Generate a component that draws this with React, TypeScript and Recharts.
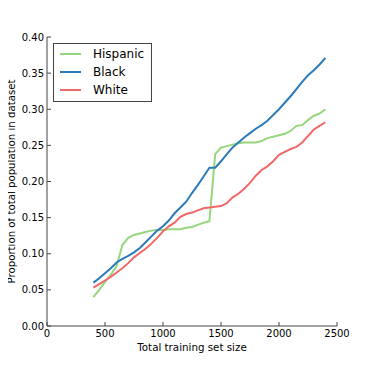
import React from "react";
import { LineChart, Line, XAxis, YAxis } from "recharts";

const sizes = [
  400, 450, 500, 550, 600, 650, 700, 750, 800, 850, 900, 950, 1000, 1050, 1100, 1150, 1200, 1250, 1300, 1350,
  1400, 1450, 1500, 1550, 1600, 1650, 1700, 1750, 1800, 1850, 1900, 1950, 2000, 2050, 2100, 2150, 2200, 2250,
  2300, 2350, 2400,
];

const hispanic = [
  0.04, 0.05, 0.061, 0.071, 0.083, 0.112, 0.122, 0.126, 0.128, 0.13, 0.132, 0.133, 0.133, 0.134, 0.134, 0.134,
  0.136, 0.137, 0.14, 0.143, 0.145, 0.238, 0.247, 0.249, 0.251, 0.253, 0.254, 0.254, 0.254, 0.256, 0.26, 0.262,
  0.264, 0.266, 0.27, 0.277, 0.278, 0.285, 0.291, 0.294, 0.3,
];

const black = [
  0.06, 0.066, 0.073, 0.08, 0.088, 0.093, 0.097, 0.102, 0.108, 0.116, 0.124, 0.132, 0.138, 0.146, 0.156, 0.164,
  0.172, 0.184, 0.195, 0.207, 0.219, 0.219, 0.228, 0.238, 0.247, 0.254, 0.261, 0.267, 0.273, 0.278, 0.284, 0.292,
  0.3, 0.309, 0.318, 0.328, 0.338, 0.347, 0.354, 0.362, 0.371,
];

const white = [
  0.053, 0.058, 0.063, 0.068, 0.074, 0.08, 0.087, 0.095, 0.101, 0.107, 0.114, 0.122, 0.131, 0.138, 0.143, 0.151,
  0.155, 0.157, 0.16, 0.163, 0.164, 0.165, 0.166, 0.17, 0.178, 0.183, 0.19, 0.198, 0.208, 0.216, 0.221, 0.228,
  0.237, 0.241, 0.245, 0.248, 0.254, 0.263, 0.272, 0.277, 0.282,
];

const xTicks = [0, 500, 1000, 1500, 2000, 2500];
const yTicks = [0, 0.05, 0.1, 0.15, 0.2, 0.25, 0.3, 0.35, 0.4];

const series = [
  { key: "hispanic", name: "Hispanic", color: "#96d67c" },
  { key: "black", name: "Black", color: "#2b7bba" },
  { key: "white", name: "White", color: "#f26868" },
];

const data = sizes.map((size, i) => ({
  size,
  hispanic: hispanic[i],
  black: black[i],
  white: white[i],
}));

const FONT = "'DejaVu Sans', sans-serif";
const AXIS = "#444";

function LegendBox() {
  return (
    <div
      style={{
        position: "absolute",
        left: 53,
        top: 43,
        boxSizing: "border-box",
        width: 99,
        height: 59,
        padding: "1px 0",
        border: `1px solid ${AXIS}`,
        background: "#fff",
        fontFamily: FONT,
        fontSize: 12,
        color: "#000",
      }}
    >
      {series.map((s) => (
        <div key={s.key} style={{ display: "flex", alignItems: "center", height: 18 }}>
          <svg width={39} height={18} style={{ display: "block" }}>
            <line x1={6} x2={27} y1={9} y2={9} stroke={s.color} strokeWidth={2} />
          </svg>
          <span>{s.name}</span>
        </div>
      ))}
    </div>
  );
}

function YLabel(props: any) {
  const vb = props.viewBox;
  const x = vb.x + 15;
  const y = vb.y + vb.height / 2;
  return (
    <text x={x} y={y} transform={`rotate(-90, ${x}, ${y})`} textAnchor="middle" fontFamily={FONT} fontSize={10.2} fill="#000">
      Proportion of total population in dataset
    </text>
  );
}

function XLabel(props: any) {
  const vb = props.viewBox;
  return (
    <text x={vb.x + vb.width / 2} y={vb.y + 24.5} textAnchor="middle" fontFamily={FONT} fontSize={10.3} fill="#000">
      Total training set size
    </text>
  );
}

export default function App() {
  const tickStyle = { fontFamily: FONT, fontSize: 10, fill: "#000" };
  return (
    <div style={{ position: "relative", width: 374, height: 374, margin: "-8px 0 0 -8px", background: "#fff" }}>
      <LineChart width={374} height={374} data={data} margin={{ top: 37, right: 37, bottom: 18, left: 0 }}>
        <XAxis
          dataKey="size"
          type="number"
          domain={[0, 2500]}
          ticks={xTicks}
          allowDataOverflow
          height={30}
          tickSize={-4}
          tickMargin={8}
          tick={tickStyle}
          axisLine={{ stroke: AXIS }}
          tickLine={{ stroke: AXIS }}
          label={<XLabel />}
        />
        <XAxis
          xAxisId="top"
          orientation="top"
          type="number"
          domain={[0, 2500]}
          ticks={xTicks}
          allowDataOverflow
          height={0}
          tickSize={-4}
          tick={false}
          axisLine={{ stroke: AXIS }}
          tickLine={{ stroke: AXIS }}
        />
        <YAxis
          type="number"
          domain={[0, 0.4]}
          ticks={yTicks}
          allowDataOverflow
          width={47}
          tickSize={-4}
          tickMargin={7}
          tick={tickStyle}
          tickFormatter={(v: number) => v.toFixed(2)}
          axisLine={{ stroke: AXIS }}
          tickLine={{ stroke: AXIS }}
          label={<YLabel />}
        />
        <YAxis
          yAxisId="right"
          orientation="right"
          type="number"
          domain={[0, 0.4]}
          ticks={yTicks}
          allowDataOverflow
          width={0}
          tickSize={-4}
          tick={false}
          axisLine={{ stroke: AXIS }}
          tickLine={{ stroke: AXIS }}
        />
        {series.map((s) => (
          <Line
            key={s.key}
            type="linear"
            dataKey={s.key}
            name={s.name}
            stroke={s.color}
            strokeWidth={2}
            dot={false}
            activeDot={false}
            isAnimationActive={false}
          />
        ))}
      </LineChart>
      <LegendBox />
    </div>
  );
}
